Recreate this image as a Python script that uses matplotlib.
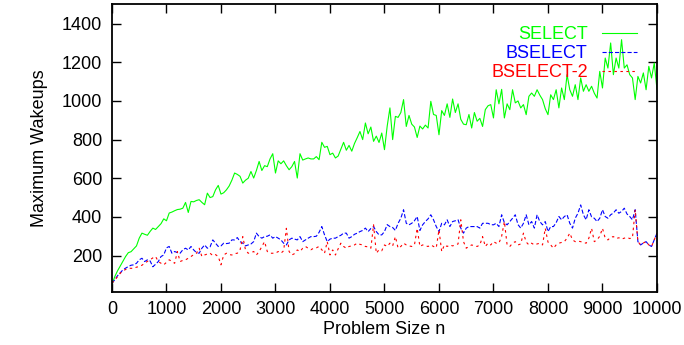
"""Maximum wakeups vs problem size for SELECT / BSELECT / BSELECT-2."""

import matplotlib
matplotlib.use("Agg")
import matplotlib.pyplot as plt
import numpy as np

# problem sizes, sampled every 50
sizes = np.arange(0, 10001, 50)

select_wakeups = [
    50, 90, 120, 145, 170, 195, 215, 220, 235, 250, 290, 316, 310, 305, 325, 342, 335, 350, 365, 390,
    380, 420, 425, 432, 438, 440, 445, 475, 423, 480, 478, 485, 489, 475, 463, 523, 500, 505, 540, 563,
    518, 525, 540, 560, 590, 627, 620, 610, 575, 590, 600, 635, 601, 640, 687, 640, 665, 660, 700, 727,
    627, 690, 675, 690, 665, 644, 660, 687, 601, 727, 694, 700, 705, 700, 700, 712, 696, 786, 760, 765,
    722, 730, 705, 715, 750, 786, 745, 770, 740, 780, 810, 842, 800, 886, 830, 865, 791, 818, 785, 834,
    748, 870, 964, 800, 920, 915, 940, 1007, 868, 925, 880, 865, 811, 870, 855, 875, 860, 998, 930, 925,
    825, 950, 925, 985, 915, 1010, 940, 985, 905, 880, 877, 930, 860, 940, 895, 910, 868, 955, 975, 981,
    912, 1058, 985, 1060, 912, 985, 955, 1058, 990, 1000, 964, 981, 929, 1024, 1041, 1024, 1058, 1030, 1007, 960,
    929, 1032, 1007, 1058, 964, 1067, 1007, 1136, 1058, 1024, 1084, 1007, 1119, 1050, 1084, 1050, 1076, 1040, 1015, 1153,
    1067, 1222, 1170, 1300, 1136, 1222, 1170, 1317, 1170, 1187, 1136, 1119, 1007, 1127, 1093, 1145, 1058, 1179, 1119, 1196, 1060,
]

bselect_wakeups = [
    57, 74, 95, 110, 126, 135, 143, 150, 152, 160, 178, 186, 169, 178, 172, 142, 155, 169, 195, 203,
    240, 247, 212, 221, 215, 212, 230, 238, 229, 247, 229, 215, 212, 238, 255, 238, 245, 281, 264, 247,
    250, 264, 262, 264, 281, 281, 293, 272, 264, 250, 255, 260, 272, 316, 298, 290, 298, 300, 307, 290,
    298, 290, 281, 264, 255, 281, 290, 285, 281, 298, 272, 281, 290, 298, 298, 300, 320, 350, 307, 272,
    285, 290, 290, 298, 305, 316, 316, 290, 298, 310, 316, 324, 330, 342, 324, 340, 350, 324, 307, 307,
    324, 360, 350, 345, 330, 367, 393, 437, 367, 359, 367, 380, 402, 330, 359, 376, 390, 411, 385, 350,
    324, 367, 359, 385, 350, 376, 380, 385, 342, 316, 342, 350, 350, 350, 350, 342, 367, 367, 367, 360,
    359, 367, 350, 411, 370, 359, 376, 393, 411, 360, 342, 367, 411, 359, 376, 342, 411, 376, 359, 376,
    324, 350, 350, 370, 402, 385, 402, 411, 367, 342, 393, 419, 462, 411, 385, 437, 400, 393, 376, 393,
    437, 402, 393, 411, 420, 437, 419, 428, 445, 415, 402, 385, 437, 272, 255, 265, 272, 255, 247, 281, 316,
]

bselect2_wakeups = [
    57, 72, 90, 108, 120, 128, 134, 134, 134, 140, 143, 150, 160, 170, 178, 188, 195, 169, 160, 152,
    165, 178, 170, 160, 221, 169, 175, 178, 186, 195, 205, 212, 238, 195, 203, 208, 212, 200, 205, 195,
    152, 203, 212, 205, 203, 210, 212, 229, 298, 229, 212, 215, 221, 203, 221, 247, 272, 221, 212, 212,
    212, 221, 212, 225, 341, 221, 203, 210, 229, 221, 238, 247, 238, 230, 238, 240, 247, 230, 212, 272,
    203, 229, 203, 235, 264, 247, 238, 247, 250, 255, 264, 258, 255, 247, 245, 238, 359, 212, 230, 225,
    255, 247, 264, 250, 298, 238, 247, 264, 255, 250, 247, 255, 341, 247, 255, 250, 247, 255, 247, 240,
    333, 221, 255, 247, 255, 250, 255, 260, 385, 272, 238, 247, 255, 250, 247, 255, 298, 247, 264, 255,
    272, 264, 264, 300, 376, 255, 247, 264, 272, 255, 260, 316, 270, 255, 264, 255, 260, 264, 255, 341,
    270, 255, 238, 255, 264, 268, 272, 290, 316, 281, 272, 275, 272, 268, 264, 290, 341, 272, 281, 300,
    341, 290, 281, 295, 298, 288, 292, 285, 290, 294, 288, 292, 437, 272, 255, 265, 272, 255, 247, 281, 316,
]

plt.rcParams["font.family"] = ["Liberation Sans", "DejaVu Sans"]
plt.rcParams["lines.scale_dashes"] = False

fig = plt.figure(figsize=(6.84, 3.45), dpi=100)
ax = fig.add_axes([0.1637, 0.1545, 0.7968, 0.833])

ax.plot(sizes, select_wakeups, color="#00ff00", lw=0.8, label="SELECT")
ax.plot(sizes, bselect_wakeups, color="#0000ff", lw=0.8, dashes=(3, 1.5), label="BSELECT")
ax.plot(sizes, bselect2_wakeups, color="#ff0000", lw=0.8, dashes=(1.8, 2.5), label="BSELECT-2")

ax.set_xlim(0, 10000)
ax.set_ylim(13, 1500)
ax.set_xticks(np.arange(0, 10001, 1000))
ax.set_yticks(np.arange(200, 1401, 200))
ax.tick_params(direction="in", length=6.5, width=1.0, labelsize=13,
               top=True, right=True, pad=7)
for s in ax.spines.values():
    s.set_linewidth(1.3)

ax.set_xlabel("Problem Size n", fontsize=13, labelpad=2)
ax.set_ylabel("Maximum Wakeups", fontsize=13, labelpad=10)

# gnuplot-style key: right-aligned labels, samples on the right
ax.legend(loc="upper right", bbox_to_anchor=(0.963, 0.925), frameon=False,
          markerfirst=False, labelcolor="linecolor", fontsize=13,
          handlelength=1.94, handletextpad=0.78, labelspacing=0.12,
          borderpad=0, borderaxespad=0)

fig.savefig("out.png", dpi=100)
